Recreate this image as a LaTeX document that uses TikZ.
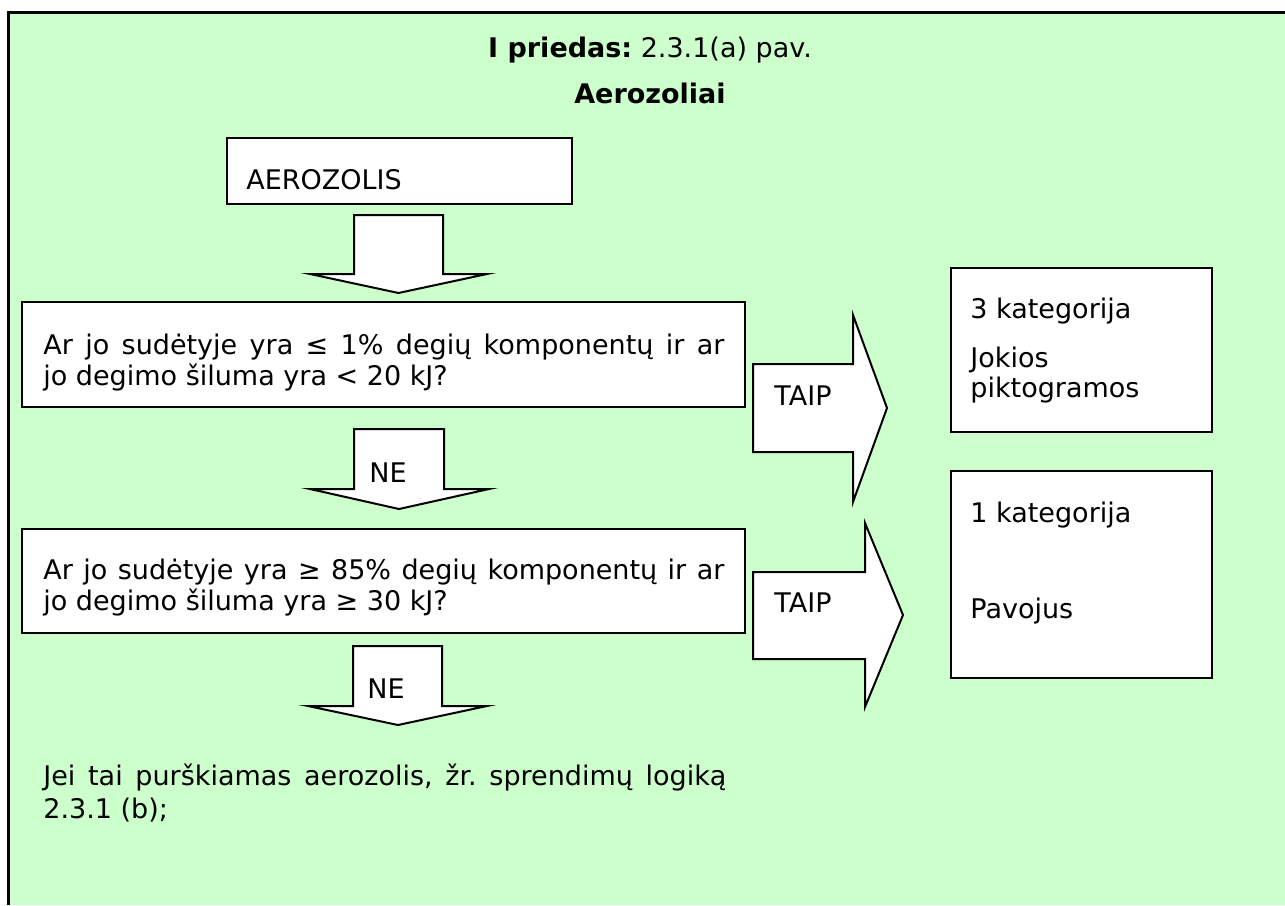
\documentclass[tikz,border=0pt]{standalone}
\usepackage{fontspec}
\setmainfont{DejaVu Sans}
\usepackage{tikz}
\frenchspacing

\definecolor{pagegreen}{HTML}{CCFFCC}
\newcommand{\bodyfont}{\fontsize{13.5pt}{15.5pt}\selectfont}

\tikzset{
  qbox/.style={rectangle,draw=black,fill=white,line width=1pt,inner sep=0pt,anchor=north west},
  txt/.style={inner sep=0pt,anchor=base west,font=\bodyfont},
  blockarr/.style={draw=black,fill=white,line width=1pt,line join=miter}
}

\begin{document}
\begin{tikzpicture}[x=0.5pt,y=-0.5pt]
    \useasboundingbox (0,0) rectangle (1285,905);
    \fill[white] (0,0) rectangle (1285,905);
    \fill[pagegreen] (8,12) rectangle (1285,905);
    \draw[line width=1.5pt] (8,905) -- (8,12) -- (1285,12);

    % heading
    \node[inner sep=0pt,anchor=base,font=\bodyfont] (title) at (650,57) {\textbf{I priedas:} 2.3.1(a) pav.};
    \node[inner sep=0pt,anchor=base,font=\bodyfont\bfseries] (subtitle) at (650,103) {Aerozoliai};

    % boxes
    \node[qbox,minimum width=172.5pt,minimum height=33pt] (aerobox) at (226,137) {};
    \node[qbox,minimum width=361.5pt,minimum height=52.5pt] (q1box) at (21,301) {};
    \node[qbox,minimum width=361.5pt,minimum height=52pt] (q2box) at (21,528) {};
    \node[qbox,minimum width=130.5pt,minimum height=82pt] (cat3box) at (950,267) {};
    \node[qbox,minimum width=130.5pt,minimum height=103.5pt] (cat1box) at (950,470) {};

    % block arrows down
    \draw[blockarr] (354,215) -- (443,215) -- (443,274) -- (487,274) -- (398.5,293) -- (310,274) -- (354,274) -- cycle;
    \draw[blockarr] (354,429) -- (444,429) -- (444,489) -- (489,489) -- (399,509) -- (310,489) -- (354,489) -- cycle;
    \draw[blockarr] (353,646) -- (442,646) -- (442,706) -- (487,706) -- (398,725) -- (308,706) -- (353,706) -- cycle;

    % block arrows right
    \draw[blockarr] (753,364) -- (853,364) -- (853,315) -- (887,408) -- (853,502) -- (853,452) -- (753,452) -- cycle;
    \draw[blockarr] (753,572) -- (865,572) -- (865,523) -- (903,615) -- (865,707) -- (865,659) -- (753,659) -- cycle;

    % texts
    \node[txt] (aerotxt) at (246,189) {AEROZOLIS};
    \node[txt,text width=340.5pt,align=justify] (q1txt) at (43,354)
      {Ar jo sudėtyje yra ≤ 1\% degių komponentų ir ar\linebreak jo degimo šiluma yra < 20 kJ?};
    \node[txt,text width=340.5pt,align=justify] (q2txt) at (43,579)
      {Ar jo sudėtyje yra ≥ 85\% degių komponentų ir ar\linebreak jo degimo šiluma yra ≥ 30 kJ?};
    \node[txt] (ne1) at (369,482) {NE};
    \node[txt] (ne2) at (367,698) {NE};
    \node[txt] (taip1) at (774,405) {TAIP};
    \node[txt] (taip2) at (774,612) {TAIP};
    \node[txt] (cat3) at (970,318) {3 kategorija};
    \node[txt,text width=115pt,align=left,font=\fontsize{13.5pt}{15pt}\selectfont] (nopict) at (970,367) {Jokios\\piktogramos};
    \node[txt] (cat1) at (970,522) {1 kategorija};
    \node[txt] (danger) at (970,618) {Pavojus};
    \node[txt,text width=341.5pt,align=justify,font=\fontsize{13.5pt}{16.5pt}\selectfont] (note) at (43,785)
      {Jei tai purškiamas aerozolis, žr. sprendimų logiką\linebreak 2.3.1 (b);};
\end{tikzpicture}
\end{document}
